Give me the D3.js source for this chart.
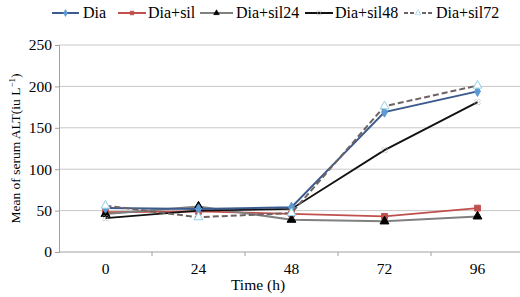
<!DOCTYPE html>
<html>
<head>
<meta charset="utf-8">
<script src="https://cdn.jsdelivr.net/npm/d3@7"></script>
<style>
  body { margin: 0; background: #fff; }
  svg text { font-family: 'Liberation Serif', 'Times New Roman', Times, serif; fill: #000; }
  .grid line { stroke: #c8c8c8; stroke-width: 1; }
  .axis path, .axis line { stroke: #a0a0a0; }
  .axis text { font-size: 15.5px; }
</style>
</head>
<body>
<svg width="520" height="297"></svg>
<script>
// DATA
var times = ['0', '24', '48', '72', '96']
var yTicks = [0, 50, 100, 150, 200, 250]
var dia = [53, 52, 54, 169, 194]
var diaSil = [48, 49, 46, 43, 53]
var diaSil24 = [46, 55, 39, 37, 43]
var diaSil48 = [41, 50, 52, 123, 181]
var diaSil72 = [56, 42, 47, 176, 201]

var series = [
	{ name: 'Dia', values: dia, line: '#3b5a8e', marker: 'diamond', mFill: '#5b9bd5', mStroke: '#5b9bd5', dash: null, w: 2 },
	{ name: 'Dia+sil', values: diaSil, line: '#c0504d', marker: 'square', mFill: '#c0504d', mStroke: '#c0504d', dash: null, w: 1.8 },
	{ name: 'Dia+sil24', values: diaSil24, line: '#808080', marker: 'triangle', mFill: '#000', mStroke: '#000', dash: null, w: 2 },
	{ name: 'Dia+sil48', values: diaSil48, line: '#111', marker: 'x', mFill: 'none', mStroke: '#aaa', dash: null, w: 1.8 },
	{ name: 'Dia+sil72', values: diaSil72, line: '#6e6262', marker: 'triangle', mFill: '#fff', mStroke: '#8fd0e8', dash: '6,3', w: 2 }
]

var margin = { top: 45, left: 59 }
var plotBottom = 252
var plotRight = 524

var svg = d3.select('svg')

var x = d3.scaleBand().domain(times).range([margin.left, plotRight])
var y = d3.scaleLinear().domain([0, 250]).range([plotBottom, margin.top])

// gridlines
svg.append('g').attr('class', 'grid')
	.selectAll('line').data(yTicks.slice(1)).enter().append('line')
	.attr('x1', margin.left).attr('x2', plotRight)
	.attr('y1', function(d) { return y(d) }).attr('y2', function(d) { return y(d) })

// axes
var axisY = d3.axisLeft(y).tickValues(yTicks).tickSize(4).tickPadding(3)
svg.append('g').attr('class', 'axis axis--y')
	.attr('transform', 'translate(' + margin.left + ',0)')
	.call(axisY)
	.attr('font-family', null).attr('font-size', null)

var axisX = d3.axisBottom(x).tickSize(0).tickPadding(11)
var gx = svg.append('g').attr('class', 'axis axis--x')
	.attr('transform', 'translate(0,' + plotBottom + ')')
	.call(axisX)
	.attr('font-family', null).attr('font-size', null)
gx.select('.domain').attr('d', 'M' + margin.left + ',0H' + plotRight)
gx.selectAll('.boundary').data(times.slice(1)).enter().append('line')
	.attr('x1', function(d) { return x(d) }).attr('x2', function(d) { return x(d) })
	.attr('y1', 0).attr('y2', 4).attr('stroke', '#a0a0a0')

function cx(i) { return x(times[i]) + x.bandwidth() / 2 }

function symType(m) {
	if (m === 'diamond') return d3.symbolDiamond
	if (m === 'square') return d3.symbolSquare
	if (m === 'triangle') return d3.symbolTriangle
	return d3.symbolCross
}
var sizes = { diamond: 30, square: 34, triangle: 34, x: 22 }

var line = d3.line()
	.x(function(d, i) { return cx(i) })
	.y(function(d) { return y(d) })

// draw in order so the dark lines sit on top like the reference
var order = [1, 2, 3, 0, 4]
order.forEach(function(k) {
	var s = series[k]
	var g = svg.append('g').attr('class', 'series')
	g.append('path')
		.attr('d', line(s.values))
		.attr('fill', 'none')
		.attr('stroke', s.line)
		.attr('stroke-width', s.w)
		.attr('stroke-dasharray', s.dash)
	g.selectAll('.pt').data(s.values).enter().append('path')
		.attr('class', 'pt')
		.attr('d', d3.symbol().type(symType(s.marker)).size(sizes[s.marker]))
		.attr('transform', function(d, i) {
			return 'translate(' + cx(i) + ',' + y(d) + ')' + (s.marker === 'x' ? 'rotate(45)' : '')
		})
		.attr('fill', s.mFill)
		.attr('stroke', s.mStroke)
		.attr('stroke-width', s.marker === 'x' ? 0.5 : 1)
})

// legend
var legendPos = [
	{ x1: 52, x2: 79, tx: 83 },
	{ x1: 118, x2: 146, tx: 148 },
	{ x1: 200, x2: 233, tx: 236 },
	{ x1: 305, x2: 333, tx: 335 },
	{ x1: 404, x2: 432, tx: 436 }
]
var legend = svg.append('g').attr('class', 'legend')
series.forEach(function(s, i) {
	var p = legendPos[i]
	var ly = 13
	legend.append('line')
		.attr('x1', p.x1).attr('x2', p.x2).attr('y1', ly).attr('y2', ly)
		.attr('stroke', s.line).attr('stroke-width', 2)
		.attr('stroke-dasharray', s.dash ? '4,2' : null)
	legend.append('path')
		.attr('d', d3.symbol().type(symType(s.marker)).size(14))
		.attr('transform', 'translate(' + ((p.x1 + p.x2) / 2) + ',' + ly + ')' + (s.marker === 'x' ? 'rotate(45)' : ''))
		.attr('fill', s.mFill).attr('stroke', s.mStroke).attr('stroke-width', 0.6)
	legend.append('text')
		.attr('x', p.tx).attr('y', ly + 5)
		.style('font-size', '16px')
		.text(s.name)
})

// axis labels
var ylab = svg.append('text')
	.attr('transform', 'translate(20,' + ((margin.top + plotBottom) / 2) + ')rotate(-90)')
	.attr('text-anchor', 'middle')
	.style('font-size', '13.5px')
ylab.append('tspan').text('Mean of serum ALT(iu L')
ylab.append('tspan').style('font-size', '9px').attr('dy', -5).text('−1')
ylab.append('tspan').attr('dy', 5).text(')')

svg.append('text')
	.attr('x', 258).attr('y', 290)
	.attr('text-anchor', 'middle')
	.style('font-size', '15.5px')
	.text('Time (h)')
</script>
</body>
</html>
